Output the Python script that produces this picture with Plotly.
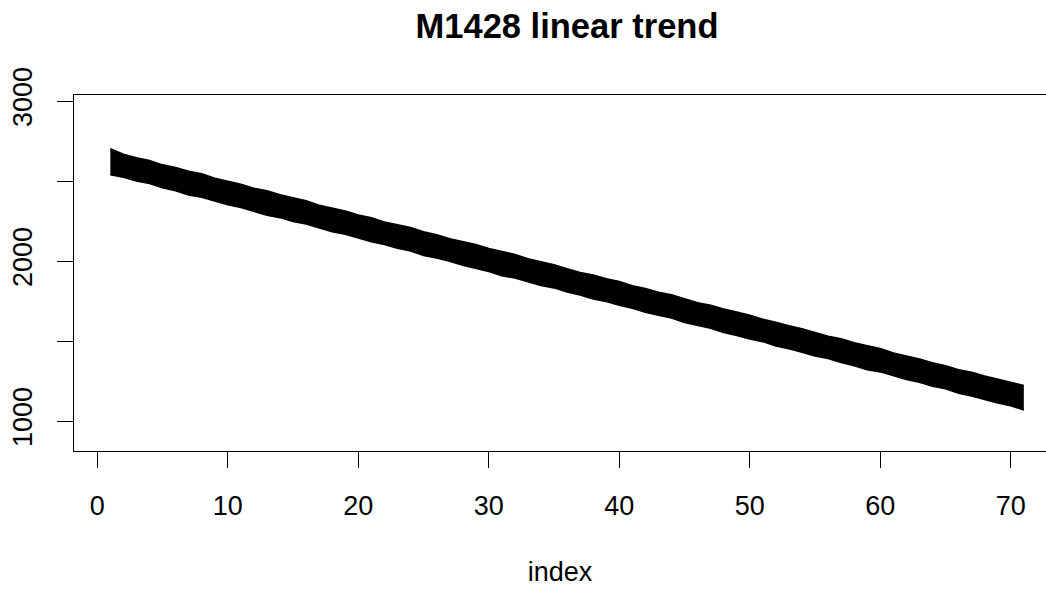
import plotly.graph_objects as go

# index positions of the fitted trend
index = list(range(1, 72))

# upper edge of the bundle of trend lines at each index
upper = [2702, 2668, 2645, 2628, 2601, 2584, 2561, 2545, 2517, 2499,
         2480, 2455, 2439, 2414, 2395, 2377, 2349, 2331, 2312, 2288,
         2271, 2244, 2227, 2209, 2183, 2165, 2140, 2122, 2103, 2078,
         2059, 2041, 2014, 1995, 1977, 1952, 1929, 1913, 1890, 1872,
         1846, 1828, 1805, 1789, 1764, 1740, 1724, 1700, 1681, 1662,
         1636, 1618, 1595, 1577, 1554, 1530, 1515, 1490, 1471, 1453,
         1426, 1407, 1388, 1364, 1345, 1320, 1305, 1281, 1261, 1238,
         1222]

# lower edge of the bundle of trend lines at each index
lower = [2539, 2524, 2500, 2484, 2457, 2439, 2413, 2399, 2375, 2351,
         2335, 2311, 2286, 2271, 2247, 2231, 2207, 2182, 2167, 2143,
         2120, 2103, 2079, 2063, 2035, 2018, 1999, 1973, 1954, 1935,
         1908, 1894, 1870, 1847, 1832, 1806, 1787, 1762, 1747, 1723,
         1704, 1679, 1661, 1643, 1615, 1597, 1579, 1553, 1535, 1512,
         1496, 1468, 1452, 1429, 1406, 1390, 1365, 1346, 1321, 1307,
         1282, 1259, 1242, 1218, 1201, 1174, 1157, 1135, 1112, 1095,
         1069]

x_ticks = [0, 10, 20, 30, 40, 50, 60, 70]
y_ticks = [1000, 1500, 2000, 2500, 3000]
y_tick_text = ["1000", "", "2000", "", "3000"]

FONT = "Liberation Sans, Arial, sans-serif"
WIDTH = 1046

fig = go.Figure()
fig.add_trace(go.Scatter(
    x=index, y=upper, mode="lines",
    line=dict(color="black", width=1.5),
    hoverinfo="skip", showlegend=False,
))
fig.add_trace(go.Scatter(
    x=index, y=lower, mode="lines",
    line=dict(color="black", width=1.5),
    fill="tonexty", fillcolor="black",
    hoverinfo="skip", showlegend=False,
))

fig.update_layout(
    width=WIDTH, height=590,
    margin=dict(l=74, r=0, t=95, b=139),
    paper_bgcolor="white", plot_bgcolor="white",
    font=dict(family=FONT, size=27, color="black"),
    title=dict(
        text="<b>M1428 linear trend</b>",
        x=567 / WIDTH, xanchor="center",
        y=1 - 26 / 590, yanchor="middle",
        font=dict(family=FONT, size=34.5, color="black"),
    ),
    xaxis=dict(
        range=[-1.785, 72.7],
        tickvals=x_ticks,
        ticks="outside", ticklen=16, tickwidth=1.3, tickcolor="black",
        showline=True, linecolor="black", linewidth=1.3, mirror=True,
        showgrid=False, zeroline=False,
        ticklabelstandoff=14,
        title=dict(text="index", standoff=42,
                   font=dict(family=FONT, size=27, color="black")),
    ),
    yaxis=dict(
        range=[812.7, 3037.5],
        tickvals=y_ticks, ticktext=y_tick_text,
        tickangle=-90,
        ticks="outside", ticklen=16, tickwidth=1.3, tickcolor="black",
        showline=True, linecolor="black", linewidth=1.3, mirror=False,
        showgrid=False, zeroline=False,
        ticklabelstandoff=14,
    ),
)

fig.write_html("out.html", config={"displayModeBar": False})
